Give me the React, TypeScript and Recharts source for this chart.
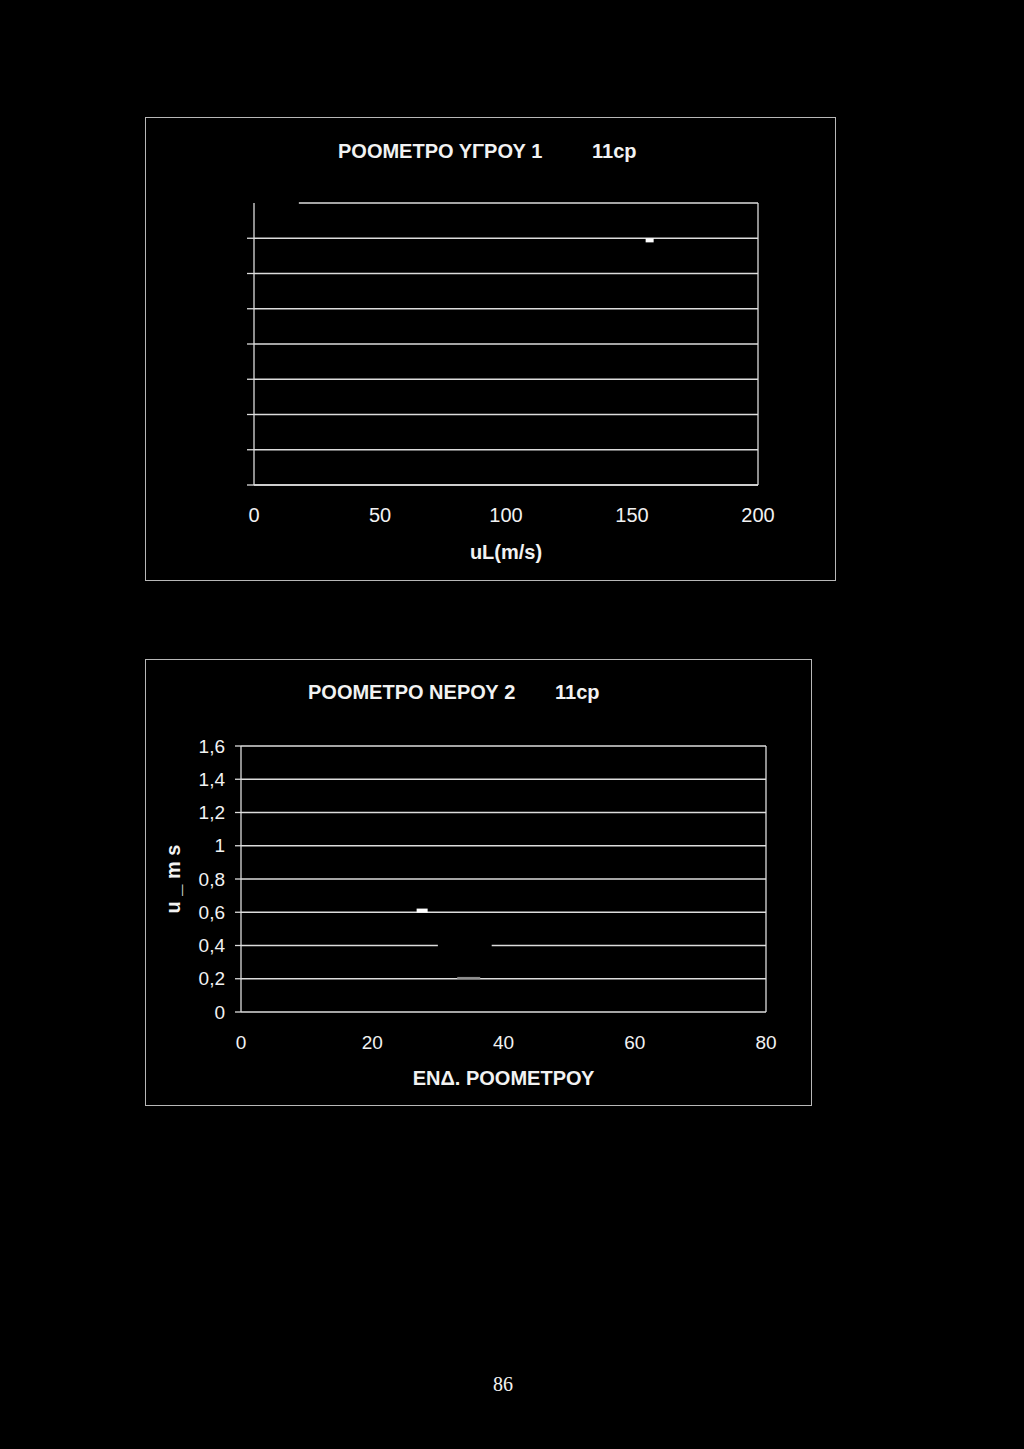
import React from "react";
import {
  ComposedChart,
  XAxis,
  YAxis,
  CartesianGrid,
  Scatter,
  ReferenceLine,
  Label,
} from "recharts";

// ΡΟΟΜΕΤΡΟ ΥΓΡΟΥ 1 (y scale has no labels in the scan)
const topXTicks = [0, 50, 100, 150, 200];
const topYTicks = [0, 1, 2, 3, 4, 5, 6, 7];
const topGridValues = [0, 1, 2, 3, 4, 5, 6, 7];
const topMarkX = [157];
const topMarkY = [6.94];

// ΡΟΟΜΕΤΡΟ ΝΕΡΟΥ 2
const bottomXTicks = [0, 20, 40, 60, 80];
const bottomYTicks = [0, 0.2, 0.4, 0.6, 0.8, 1, 1.2, 1.4, 1.6];
const bottomYLabels = ["0", "0,2", "0,4", "0,6", "0,8", "1", "1,2", "1,4", "1,6"];
const bottomGridValues = [0.2, 0.4, 0.6, 0.8, 1, 1.2, 1.4, 1.6];
const bottomMarkX = [27.6];
const bottomMarkY = [0.61];
const bottomFaintX = [34.7];
const bottomFaintY = [0.205];
const bottomGapX = [30, 38.2];
const bottomGapY = [0.4, 0.4];

const zip = (xs: number[], ys: number[]) => xs.map((x, i) => ({ x, y: ys[i] }));

const font = "'Liberation Sans', Arial, Helvetica, sans-serif";
const ink = "#f2f2f2";
const rule = "#dcdcdc";
const frame = "#b8b8b8";

const blob = (w: number, h: number, fill: string) => (p: any) =>
  <rect x={p.cx - w / 2} y={p.cy - h / 2} width={w} height={h} fill={fill} />;

const titleStyle: React.CSSProperties = {
  position: "absolute",
  fontSize: 20,
  fontWeight: "bold",
  lineHeight: "20px",
  whiteSpace: "pre",
  color: ink,
};

const frameStyle = (left: number, top: number, width: number, height: number): React.CSSProperties => ({
  position: "absolute",
  left,
  top,
  width,
  height,
  boxSizing: "border-box",
  border: `1px solid ${frame}`,
  pointerEvents: "none",
});

const TopChart = () => (
  <>
    <div style={{ position: "absolute", left: 145, top: 117 }}>
      <ComposedChart width={690} height={463} margin={{ top: 86, right: 77, bottom: 0, left: 0 }}>
        <CartesianGrid
          stroke={rule}
          strokeWidth={1.3}
          horizontalValues={topGridValues}
          verticalValues={[200]}
        />
        <ReferenceLine
          segment={[{ x: 17.8, y: 8 }, { x: 200, y: 8 }]}
          stroke={rule}
          strokeWidth={1.3}
        />
        <XAxis
          type="number"
          dataKey="x"
          domain={[0, 200]}
          ticks={topXTicks}
          height={95}
          axisLine={{ stroke: rule, strokeWidth: 1.3 }}
          tickLine={false}
          tickSize={0}
          tickMargin={23}
          tick={{ fill: ink, fontSize: 20, fontFamily: font }}
        >
          <Label
            value="uL(m/s)"
            position="insideBottom"
            offset={21}
            style={{ fill: ink, fontSize: 20, fontWeight: "bold", fontFamily: font }}
          />
        </XAxis>
        <YAxis
          type="number"
          dataKey="y"
          domain={[0, 8]}
          ticks={topYTicks}
          width={109}
          axisLine={{ stroke: rule, strokeWidth: 1.3 }}
          tickLine={{ stroke: rule, strokeWidth: 1.3 }}
          tickSize={7}
          tickFormatter={() => ""}
        />
        <Scatter
          data={zip(topMarkX, topMarkY)}
          shape={blob(8, 4, "#ffffff")}
          isAnimationActive={false}
        />
      </ComposedChart>
    </div>
    <div style={frameStyle(145, 117, 691, 464)} />
    <div style={{ ...titleStyle, left: 338, top: 141 }}>ΡΟΟΜΕΤΡΟ ΥΓΡΟΥ 1</div>
    <div style={{ ...titleStyle, left: 592, top: 141 }}>11cp</div>
  </>
);

const BottomChart = () => (
  <>
    <div style={{ position: "absolute", left: 145, top: 659 }}>
      <ComposedChart width={666} height={446} margin={{ top: 87, right: 45, bottom: 0, left: 0 }}>
        <CartesianGrid
          stroke={rule}
          strokeWidth={1.3}
          horizontalValues={bottomGridValues}
          verticalValues={[80]}
        />
        <XAxis
          type="number"
          dataKey="x"
          domain={[0, 80]}
          ticks={bottomXTicks}
          height={93}
          axisLine={{ stroke: rule, strokeWidth: 1.3 }}
          tickLine={false}
          tickSize={0}
          tickMargin={24}
          tick={{ fill: ink, fontSize: 19, fontFamily: font }}
        >
          <Label
            value="ΕΝΔ. ΡΟΟΜΕΤΡΟΥ"
            position="insideBottom"
            offset={20}
            style={{ fill: ink, fontSize: 20, fontWeight: "bold", fontFamily: font }}
          />
        </XAxis>
        <YAxis
          type="number"
          dataKey="y"
          domain={[0, 1.6]}
          ticks={bottomYTicks}
          width={96}
          axisLine={{ stroke: rule, strokeWidth: 1.3 }}
          tickLine={{ stroke: rule, strokeWidth: 1.3 }}
          tickSize={6}
          tickMargin={10}
          tickFormatter={(v: number, i: number) => bottomYLabels[i] ?? String(v)}
          tick={{ fill: ink, fontSize: 19, fontFamily: font }}
        >
          <Label
            value="u _ m s"
            angle={-90}
            position="insideLeft"
            offset={28}
            style={{ fill: ink, fontSize: 20, fontWeight: "bold", fontFamily: font, textAnchor: "middle" }}
          />
        </YAxis>
        <Scatter
          data={zip(bottomGapX, bottomGapY)}
          line={{ stroke: "#000", strokeWidth: 5 }}
          shape={() => <g />}
          isAnimationActive={false}
        />
        <Scatter
          data={zip(bottomFaintX, bottomFaintY)}
          shape={blob(23, 2, "#8a8a8a")}
          isAnimationActive={false}
        />
        <Scatter
          data={zip(bottomMarkX, bottomMarkY)}
          shape={blob(11, 4, "#ffffff")}
          isAnimationActive={false}
        />
      </ComposedChart>
    </div>
    <div style={frameStyle(145, 659, 667, 447)} />
    <div style={{ ...titleStyle, left: 308, top: 682 }}>ΡΟΟΜΕΤΡΟ ΝΕΡΟΥ 2</div>
    <div style={{ ...titleStyle, left: 555, top: 682 }}>11cp</div>
  </>
);

export default function App() {
  return (
    <div
      style={{
        position: "absolute",
        left: 0,
        top: 0,
        width: 1024,
        height: 1449,
        background: "#000",
        fontFamily: font,
        overflow: "hidden",
      }}
    >
      <TopChart />
      <BottomChart />
      <div
        style={{
          position: "absolute",
          left: 463,
          top: 1374,
          width: 80,
          textAlign: "center",
          fontFamily: "'Liberation Serif', 'Times New Roman', serif",
          fontSize: 20,
          lineHeight: "20px",
          color: ink,
        }}
      >
        86
      </div>
    </div>
  );
}
